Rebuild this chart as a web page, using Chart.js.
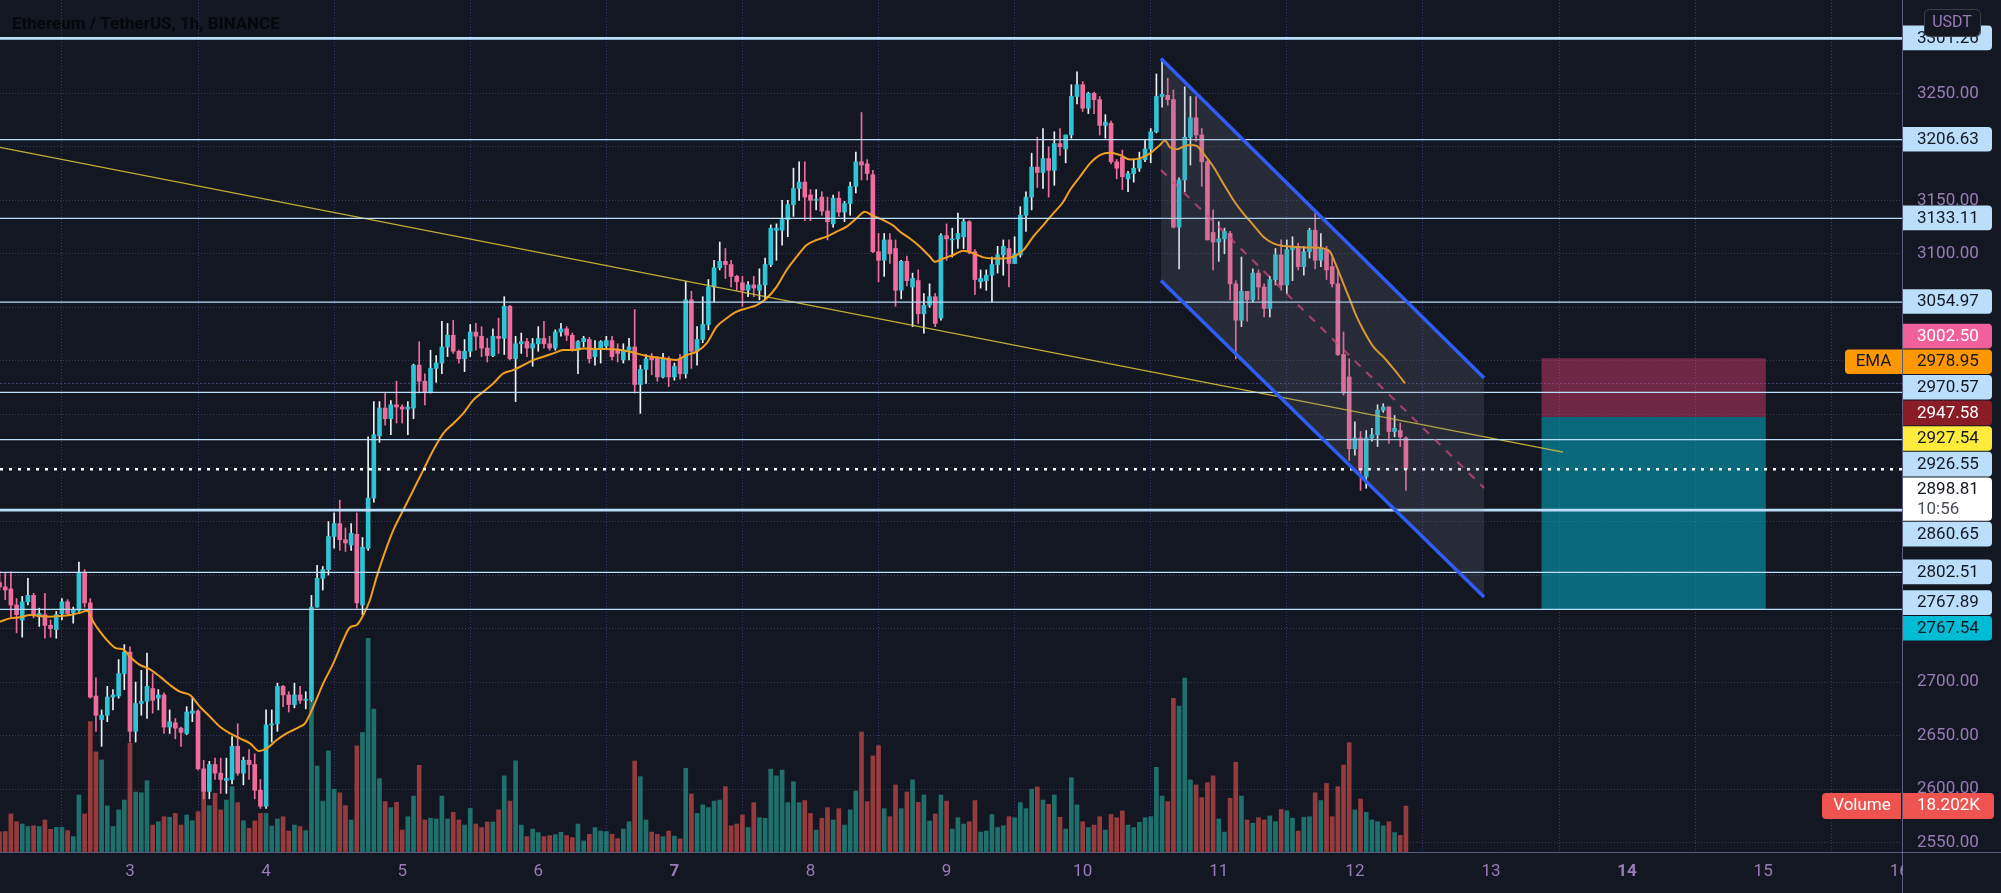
<!DOCTYPE html>
<html>
<head>
<meta charset="utf-8">
<script src="https://cdn.jsdelivr.net/npm/chart.js@4.4.1/dist/chart.umd.min.js"></script>
<style>
html,body{margin:0;padding:0;background:#131722;}
#wrap{width:2001px;height:893px;position:relative;overflow:hidden;}
canvas{display:block;}
</style>
</head>
<body>
<div id="wrap"><canvas id="c" width="2001" height="893"></canvas></div>
<script>
// ---------------- DATA ----------------
const title = 'Ethereum / TetherUS, 1h, BINANCE';
const startDay = 2, startHour = 1;           // first hourly candle: day 2, 01:00
const opens = [
2793,2789,2787,2772,2758,2775,2781,2761,2763,2753,2749,2764,2775,2765,2767,2802,2774,2687,2665,2669,2686,2687,2708,
2728,2654,2680,2682,2694,2685,2688,2658,2662,2657,2652,2671,2673,2619,2598,2623,2615,2608,2609,2640,2615,2627,2623,2599,
2584,2660,2661,2696,2688,2679,2688,2683,2683,2770,2797,2805,2836,2848,2833,2828,2838,2772,2825,2872,2930,2956,2946,2959,
2957,2955,2956,2996,2981,2971,2993,2998,3013,3024,3009,3002,3009,3027,3023,3012,3005,3023,3021,3051,3002,3016,3018,3012,
3016,3021,3016,3012,3027,3030,3024,3010,3018,3020,3004,3011,3014,3019,3011,3001,3010,3013,2978,2992,3003,3003,2985,3002,
2985,3002,2988,3057,3009,3020,3034,3069,3087,3093,3090,3079,3073,3066,3071,3066,3071,3090,3122,3122,3132,3146,3161,3167,
3155,3150,3153,3140,3128,3152,3139,3147,3163,3186,3184,3174,3102,3094,3113,3105,3066,3093,3069,3075,3044,3052,3060,3040,
3117,3113,3114,3116,3130,3102,3074,3075,3080,3090,3099,3105,3091,3099,3136,3153,3181,3176,3189,3178,3203,3198,3211,3247,
3258,3236,3250,3244,3220,3222,3186,3190,3170,3175,3180,3188,3198,3214,3247,3248,3244,3125,3169,3209,3227,3211,3186,3120,
3111,3114,3119,3072,3038,3065,3057,3082,3069,3049,3076,3099,3071,3104,3107,3088,3102,3122,3094,3104,3088,3072,3006,2985,
2918,2928,2892,2928,2931,2954,2957,2934,2935,2928];
const highs = [
2804,2802,2803,2778,2780,2797,2783,2769,2783,2758,2766,2778,2777,2770,2812,2805,2778,2704,2674,2696,2693,2721,2735,
2733,2700,2711,2727,2708,2693,2690,2674,2666,2658,2677,2685,2674,2627,2626,2629,2629,2629,2649,2661,2630,2637,2633,2609,
2674,2674,2699,2697,2691,2699,2696,2691,2781,2809,2808,2850,2858,2870,2844,2848,2858,2835,2929,2962,2962,2970,2963,2981,
2959,2962,2997,3018,2988,3010,3005,3037,3035,3038,3010,3020,3034,3035,3032,3021,3030,3040,3060,3052,3023,3026,3021,3021,
3032,3037,3023,3029,3035,3032,3026,3019,3023,3022,3019,3019,3023,3023,3016,3016,3021,3048,2996,3006,3007,3004,3007,3004,
2998,3006,3074,3065,3032,3060,3076,3094,3111,3105,3094,3080,3079,3074,3079,3086,3096,3127,3128,3150,3150,3180,3186,3186,
3160,3160,3158,3153,3155,3158,3149,3167,3195,3232,3188,3178,3119,3119,3119,3113,3094,3098,3082,3085,3063,3072,3063,3119,
3128,3124,3138,3133,3131,3104,3085,3085,3097,3107,3113,3113,3116,3144,3158,3194,3209,3217,3200,3214,3217,3211,3258,3270,
3261,3251,3251,3247,3230,3224,3188,3197,3177,3188,3195,3206,3217,3268,3282,3264,3253,3171,3256,3247,3247,3217,3188,3141,
3130,3124,3121,3075,3097,3065,3086,3085,3072,3079,3105,3113,3113,3116,3110,3107,3124,3138,3119,3107,3097,3085,3027,3002,
2943,2934,2935,2937,2959,2960,2957,2949,2942,2929];
const lows = [
2786,2777,2761,2746,2742,2772,2760,2752,2741,2742,2741,2758,2762,2755,2766,2770,2685,2654,2640,2663,2674,2685,2693,
2644,2644,2669,2666,2671,2674,2652,2652,2647,2640,2651,2663,2618,2591,2591,2609,2596,2596,2605,2613,2604,2609,2591,2582,
2582,2644,2654,2677,2672,2676,2680,2675,2682,2770,2786,2800,2825,2823,2822,2823,2769,2763,2823,2868,2924,2940,2931,2942,
2942,2931,2946,2970,2959,2970,2980,2988,3004,3007,2998,2990,3004,3010,3004,2999,3004,3007,3006,3001,2962,3007,3004,2995,
3009,3012,3010,3010,3023,3019,3009,2988,3013,2998,2996,2998,3011,3001,2999,2998,3001,2970,2951,2979,2987,2981,2984,2976,
2982,2983,2984,2993,2996,3017,3029,3055,3085,3077,3069,3066,3051,3060,3060,3057,3057,3088,3094,3108,3116,3135,3150,3131,
3131,3141,3136,3113,3125,3135,3130,3136,3157,3169,3169,3101,3074,3079,3091,3051,3058,3070,3032,3035,3026,3050,3032,3038,
3094,3097,3105,3105,3100,3062,3068,3066,3055,3082,3080,3069,3091,3097,3121,3141,3162,3161,3153,3164,3192,3185,3208,3240,
3233,3231,3231,3211,3208,3184,3170,3160,3158,3167,3177,3186,3185,3213,3237,3239,3124,3086,3158,3183,3205,3163,3113,3085,
3093,3100,3057,3002,3032,3037,3055,3057,3041,3041,3071,3066,3063,3075,3085,3080,3096,3086,3088,3076,3069,3005,2968,2907,
2912,2879,2881,2925,2920,2952,2923,2929,2920,2879];
const closes = [
2789,2786,2772,2763,2775,2781,2763,2764,2753,2750,2763,2775,2764,2767,2802,2774,2686,2669,2669,2686,2688,2708,2728,
2654,2680,2682,2696,2683,2688,2658,2663,2657,2653,2672,2673,2619,2598,2623,2615,2609,2610,2640,2615,2627,2623,2599,2584,
2660,2661,2696,2688,2679,2688,2683,2684,2770,2797,2805,2836,2848,2833,2830,2839,2774,2826,2872,2931,2956,2946,2959,2957,
2955,2957,2996,2981,2971,2993,2998,3013,3024,3009,3002,3009,3027,3023,3012,3005,3023,3021,3051,3002,3016,3018,3012,3016,
3021,3016,3012,3027,3030,3024,3010,3018,3021,3002,3011,3018,3019,3004,3007,3010,3013,2978,2992,3002,3001,2985,3002,2985,
2995,2988,3057,3009,3020,3034,3069,3087,3093,3090,3079,3074,3066,3071,3068,3071,3090,3124,3124,3132,3146,3161,3167,3153,
3150,3151,3140,3130,3152,3139,3147,3163,3186,3183,3175,3102,3094,3113,3100,3066,3093,3075,3077,3044,3052,3060,3035,3117,
3114,3114,3119,3130,3102,3076,3077,3080,3090,3099,3107,3091,3100,3136,3153,3181,3176,3189,3178,3203,3200,3211,3247,3258,
3236,3250,3244,3220,3223,3186,3180,3172,3175,3180,3188,3198,3214,3247,3249,3244,3125,3169,3209,3227,3211,3186,3113,3111,
3114,3121,3072,3038,3065,3057,3082,3069,3049,3076,3099,3071,3104,3107,3088,3102,3122,3094,3105,3085,3072,3006,2970,2918,
2928,2898,2928,2931,2954,2957,2934,2937,2929,2898.81];
const volumes = [ // thousands
8.0,8.1,15.1,12.0,11.1,10.1,10.4,10.1,12.7,9.0,9.8,9.8,8.5,6.1,22.6,15.1,51.7,39.7,36.5,18.3,10.1,16.7,20.6,
43.1,23.8,23.5,28.3,10.7,12.0,14.0,13.8,15.3,10.7,14.7,12.4,16.0,32.5,18.4,23.3,16.7,20.6,25.9,19.6,12.4,9.4,12.3,15.3,
15.3,10.3,13.1,14.0,8.3,10.7,10.1,8.5,59.7,34.1,20.2,40.1,24.9,23.5,18.4,12.7,42.1,47.4,84.8,56.7,29.1,20.0,17.6,19.7,
8.7,14.0,22.2,34.4,12.7,13.4,13.1,22.2,13.1,15.7,12.7,10.7,17.3,11.1,9.7,11.9,11.9,16.7,30.2,20.2,36.2,10.7,6.1,9.1,
7.7,6.1,6.5,6.9,7.8,6.5,5.7,11.1,4.4,7.0,9.7,8.3,8.1,7.0,5.3,9.1,12.0,36.1,29.9,12.7,7.9,7.0,6.1,8.3,
6.3,5.2,33.2,23.0,15.3,18.7,17.6,20.2,20.6,25.9,10.4,11.1,14.7,9.7,19.6,13.6,13.4,32.9,30.2,32.5,19.6,27.9,19.6,20.4,
15.3,8.7,13.4,17.6,12.7,17.2,10.7,16.7,24.2,47.6,20.0,38.1,42.2,17.2,14.0,26.6,17.2,23.8,28.6,19.7,22.6,12.3,15.1,22.6,
20.2,9.1,13.6,11.1,12.0,20.4,7.9,8.3,14.9,9.7,10.4,14.0,13.6,19.6,17.2,24.9,25.8,20.6,18.9,22.6,13.8,9.1,29.5,18.7,
12.0,9.7,10.7,14.0,8.7,14.9,13.6,16.3,10.7,9.7,11.8,13.6,14.0,33.6,22.2,20.0,61.0,57.9,69.0,28.6,26.6,21.6,27.5,30.2,
13.1,7.9,21.3,35.6,22.2,12.7,11.4,13.6,12.7,14.3,12.0,16.9,16.3,13.4,8.3,13.8,14.0,23.5,20.4,27.2,14.0,25.9,34.5,43.4,
16.7,21.0,15.7,12.7,12.0,10.4,12.0,7.7,6.6,18.202];
const times = opens.map((_, i) => startDay + (startHour + i) / 24);   // days

// EMA
const emaTimes = [2.045,2.117,2.192,2.266,2.339,2.412,2.486,2.559,2.633,2.686,2.730,2.780,2.853,2.902,2.951,3.000,3.073,3.147,3.220,3.294,3.367,3.441,3.514,3.588,3.661,3.735,3.808,3.882,3.950,4.004,4.078,4.151,4.249,4.286,4.347,4.420,4.494,4.567,4.616,4.666,4.714,4.763,4.813,4.861,4.935,5.008,5.082,5.155,5.229,5.302,5.376,5.449,5.522,5.596,5.669,5.743,5.816,5.890,5.963,6.037,6.110,6.184,6.257,6.331,6.429,6.551,6.674,6.796,6.919,7.017,7.090,7.164,7.237,7.311,7.384,7.458,7.531,7.605,7.678,7.752,7.825,7.899,7.972,8.046,8.119,8.192,8.266,8.339,8.400,8.461,8.535,8.608,8.658,8.731,8.805,8.878,8.915,8.976,9.049,9.123,9.196,9.270,9.343,9.417,9.490,9.564,9.637,9.711,9.784,9.858,9.907,9.980,10.054,10.127,10.201,10.274,10.348,10.421,10.494,10.568,10.605,10.641,10.690,10.739,10.788,10.838,10.886,10.960,11.033,11.107,11.180,11.254,11.327,11.401,11.474,11.548,11.621,11.695,11.768,11.817,11.866,11.915,11.964,12.013,12.062,12.135,12.209,12.282,12.331,12.368];
const emaValues = [2756.4,2759.5,2760.5,2762.6,2761.7,2761.1,2761.7,2762.6,2764.8,2766.7,2756.4,2747.1,2736.2,2731.5,2730.6,2723.7,2716.0,2711.9,2705.1,2697.3,2691.0,2687.9,2677.0,2667.7,2658.3,2652.1,2647.4,2642.8,2635.6,2638.1,2645.9,2652.1,2658.3,2661.4,2677.0,2698.8,2717.5,2739.3,2751.1,2753.3,2762.6,2776.7,2798.5,2817.0,2842.0,2860.7,2879.4,2898.0,2916.7,2932.3,2941.6,2951.0,2963.4,2971.2,2979.0,2988.3,2991.4,2996.1,3000.8,3003.9,3007.0,3010.1,3010.1,3011.7,3011.1,3010.8,3008.6,3004.6,3002.4,3000.9,3005.5,3008.7,3016.4,3032.0,3039.8,3046.0,3049.1,3052.2,3058.5,3069.4,3084.9,3097.4,3108.3,3113.0,3116.1,3120.7,3125.4,3133.2,3139.4,3135.4,3131.6,3126.5,3120.7,3114.4,3106.6,3097.3,3092.6,3095.7,3098.9,3102.9,3100.4,3096.7,3095.7,3095.7,3097.3,3103.5,3116.0,3126.9,3137.8,3148.7,3159.6,3172.0,3184.5,3192.3,3194.4,3192.3,3188.2,3189.2,3193.8,3201.6,3205.8,3199.6,3197.6,3200.1,3201.6,3200.7,3193.8,3181.4,3165.8,3150.3,3137.8,3126.9,3116.0,3109.8,3107.3,3106.7,3106.0,3106.0,3105.1,3102.0,3088.0,3072.4,3056.9,3041.3,3028.8,3013.3,3003.9,2993.0,2985.2,2978.95];

// horizontal levels
const levels = [3301.26, 3206.63, 3133.11, 3054.97, 2970.57, 2926.55, 2860.65, 2802.51, 2767.89];
const thickLevels = [3301.26, 2860.65];
const lastPrice = 2898.81, countdown = '10:56';
const emaLast = 2978.95;
// drawings
const trendTimes = [2.045, 13.529], trendValues = [3199.5, 2914.9], trendLabel = 2927.54;
const chanTimes = [10.575, 12.949];
const chanUpper = [3282.5, 2984.0];
const chanLower = [3075.1, 2779.5];
const chanMid = [3178.3, 2881.3];
const posTimes = [13.37, 15.02];
const posStop = 3002.50, posEntry = 2947.58, posTarget = 2767.54;
const lastVolumeLabel = '18.202K';
// axes
const dayTicks = [3,4,5,6,7,8,9,10,11,12,13,14,15,16];
const boldDays = [7,14];
const priceTicks = [2550,2600,2650,2700,2750,2800,2850,2900,2950,3000,3050,3100,3150,3200,3250,3300];
const shownPriceTicks = [3250,3150,3100,2700,2650,2600,2550];

// ---------------- STYLE ----------------
const BG = '#131722';
const FONT = 'Roboto, "Liberation Sans", sans-serif';
const TICK = '#9a7bb8';
const UP = '#2ec4d6', DOWN = '#ef6c9c';
const VUP = 'rgba(38,166,154,0.62)', VDOWN = 'rgba(239,83,80,0.6)';
const LEVEL = '#bbdefb';
const X0 = 2.045, X1 = 16.02;

const up = closes.map((c, i) => c >= opens[i]);
const seg = (xs, ys) => xs.map((x, i) => ({x, y: ys[i]}));
const hline = v => [{x: X0, y: v}, {x: X1, y: v}];

const datasets = [];
function add(ds){ datasets.push(ds); return datasets.length - 1; }

add({type:'bar', label:'vol', yAxisID:'yVol', order:10, barThickness:4,
  data: times.map((t,i)=>({x:t, y:volumes[i]})),
  backgroundColor: up.map(u => u ? VUP : VDOWN)});
add({type:'bar', label:'wick', yAxisID:'y', order:6, barThickness:1, minBarLength:1,
  data: times.map((t,i)=>({x:t, y:[lows[i], highs[i]]})),
  backgroundColor: up.map(u => u ? '#e8f4f8' : DOWN)});
add({type:'bar', label:'body', yAxisID:'y', order:5, barThickness:4, minBarLength:1,
  data: times.map((t,i)=>({x:t, y:[Math.min(opens[i],closes[i]), Math.max(opens[i],closes[i])]})),
  backgroundColor: up.map(u => u ? UP : DOWN)});
add({type:'line', label:'ema', order:4, data: seg(emaTimes, emaValues),
  borderColor:'#f0a020', borderWidth:2, pointRadius:0, cubicInterpolationMode:'monotone', fill:false});
// EMA price line (dotted) and current price line
add({type:'line', order:7, data:hline(emaLast), borderColor:'rgba(95,95,170,0.6)', borderWidth:1, borderDash:[2,2], pointRadius:0, fill:false});
levels.forEach(v => add({type:'line', order:2, data:hline(v), borderColor:LEVEL,
  borderWidth: thickLevels.includes(v) ? 2.6 : 1.2, pointRadius:0, fill:false}));
add({type:'line', order:2, data:hline(lastPrice), borderColor:'#ffffff', borderWidth:2.6, borderDash:[3,6], pointRadius:0, fill:false});
// trendline
add({type:'line', order:2, data:seg(trendTimes, trendValues), borderColor:'rgba(214,190,60,0.9)', borderWidth:1.3, pointRadius:0, fill:false});
// position boxes
add({type:'line', order:3, data:seg(posTimes, [posStop,posStop]), borderWidth:0, pointRadius:0,
  fill:{value:posEntry}, backgroundColor:'rgba(236,64,122,0.42)'});
add({type:'line', order:3, data:seg(posTimes, [posTarget,posTarget]), borderWidth:0, pointRadius:0,
  fill:{value:posEntry}, backgroundColor:'rgba(0,188,212,0.5)'});
// channel
const iLow = add({type:'line', order:1, data:seg(chanTimes, chanLower), borderColor:'#2f5cf5', borderWidth:3.5, pointRadius:0, fill:false});
add({type:'line', order:1, data:seg(chanTimes, chanUpper), borderColor:'#2f5cf5', borderWidth:3.5, pointRadius:0,
  fill:{target:iLow}, backgroundColor:'rgba(120,123,140,0.2)'});
add({type:'line', order:1, data:seg(chanTimes, chanMid), borderColor:'rgba(236,64,122,0.7)', borderWidth:2.2, borderDash:[8,8], pointRadius:0, fill:false});

// ---------------- LABEL BOXES ----------------
const LB = '#bbdefb', DK = '#131722';
const priceLabels = [
  {v:levels[0], bg:LB, fg:DK},
  {v:levels[1], bg:LB, fg:DK},
  {v:levels[2], bg:LB, fg:DK},
  {v:levels[3], bg:LB, fg:DK},
  {v:posStop, bg:'#f0609a', fg:'#ffffff'},
  {v:emaLast, bg:'#ff9800', fg:DK, tag:'EMA'},
  {v:levels[4], bg:LB, fg:DK},
  {v:posEntry, bg:'#8a1c26', fg:'#ffffff'},
  {v:trendLabel, bg:'#ffeb3b', fg:DK},
  {v:levels[5], bg:LB, fg:DK},
  {v:lastPrice, bg:'#ffffff', fg:DK, sub:countdown},
  {v:levels[6], bg:LB, fg:DK},
  {v:levels[7], bg:LB, fg:DK},
  {v:levels[8], bg:LB, fg:DK},
  {v:posTarget, bg:'#00bcd4', fg:DK}
];

function layoutLabels(items){
  items.sort((a,b)=>a.y-b.y);
  let clusters = items.map(it=>({items:[it]}));
  const place = c => {
    let off = 0; const d = [];
    c.items.forEach(it=>{ d.push(it.y - (off + it.h/2)); off += it.h; });
    const mean = d.reduce((a,b)=>a+b,0)/d.length;
    const s = [...d].sort((a,b)=>a-b);
    const upperMed = s[Math.floor(s.length/2)];
    c.top = (mean + upperMed) / 2; c.h = off;
  };
  clusters.forEach(place);
  let merged = true;
  while (merged){
    merged = false;
    for (let i=0;i<clusters.length-1;i++){
      const a = clusters[i], b = clusters[i+1];
      if (a.top + a.h > b.top + 0.01){
        const c = {items:[...a.items, ...b.items]}; place(c);
        clusters.splice(i,2,c); merged = true; break;
      }
    }
  }
  clusters.forEach(c=>{ let off=c.top; c.items.forEach(it=>{ it.top = off; off += it.h; }); });
}

function rrect(ctx, x, y, w, h, rl, rr){
  ctx.beginPath();
  ctx.moveTo(x+rl, y); ctx.lineTo(x+w-rr, y); ctx.quadraticCurveTo(x+w, y, x+w, y+rr);
  ctx.lineTo(x+w, y+h-rr); ctx.quadraticCurveTo(x+w, y+h, x+w-rr, y+h);
  ctx.lineTo(x+rl, y+h); ctx.quadraticCurveTo(x, y+h, x, y+h-rl);
  ctx.lineTo(x, y+rl); ctx.quadraticCurveTo(x, y, x+rl, y); ctx.closePath();
}

const overlay = {
  id:'overlay',
  beforeDraw(chart){
    const c = chart.ctx; c.save(); c.fillStyle = BG; c.fillRect(0,0,chart.width,chart.height); c.restore();
  },
  afterDraw(chart){
    const ctx = chart.ctx, a = chart.chartArea, ys = chart.scales.y, yv = chart.scales.yVol;
    ctx.save();
    // hide time label overflow under price scale
    ctx.fillStyle = BG; ctx.fillRect(a.right+1, a.bottom+1, chart.width-a.right, chart.height-a.bottom);
    // axis borders
    ctx.strokeStyle = 'rgba(150,150,200,0.55)'; ctx.lineWidth = 1;
    ctx.beginPath(); ctx.moveTo(a.right+0.5, 0); ctx.lineTo(a.right+0.5, chart.height); ctx.stroke();
    ctx.beginPath(); ctx.moveTo(0, a.bottom+0.5); ctx.lineTo(chart.width, a.bottom+0.5); ctx.stroke();
    // title
    ctx.font = 'bold 17px ' + FONT; ctx.fillStyle = '#06070b'; ctx.textBaseline = 'middle'; ctx.textAlign='left';
    ctx.fillText(title, 12, 25);
    // price labels
    const items = priceLabels.map(p=>({...p, y: ys.getPixelForValue(p.v), h: p.sub ? 44.4 : 25.6}));
    layoutLabels(items);
    const bx = a.right + 1, bw = 89;
    ctx.font = '17px ' + FONT; ctx.textBaseline = 'middle';
    items.forEach(it=>{
      ctx.fillStyle = it.bg; rrect(ctx, bx, it.top, bw, it.h - 1, 0, 4); ctx.fill();
      ctx.fillStyle = it.fg; ctx.textAlign = 'left';
      if (it.sub){
        ctx.fillText(it.v.toFixed(2), bx + 14, it.top + 12);
        ctx.fillStyle = '#4b4e57'; ctx.fillText(it.sub, bx + 14, it.top + 32.5);
      } else {
        ctx.fillText(it.v.toFixed(2), bx + 14, it.top + it.h/2);
      }
      if (it.tag){
        ctx.fillStyle = it.bg; rrect(ctx, a.right - 57, it.top, 57, it.h - 1, 4, 0); ctx.fill();
        ctx.fillStyle = it.fg; ctx.textAlign = 'center'; ctx.fillText(it.tag, a.right - 28.5, it.top + it.h/2);
      }
    });
    // volume labels
    const vy = yv.getPixelForValue(volumes[volumes.length-1]);
    ctx.fillStyle = '#ef5350';
    rrect(ctx, bx, vy - 13, bw + 2, 26, 0, 4); ctx.fill();
    rrect(ctx, a.right - 80, vy - 13, 79, 26, 4, 0); ctx.fill();
    ctx.fillStyle = '#ffffff'; ctx.textAlign = 'left';
    ctx.fillText(lastVolumeLabel, bx + 14, vy);
    ctx.textAlign = 'center'; ctx.fillText('Volume', a.right - 40, vy);
    // currency box
    ctx.fillStyle = BG; rrect(ctx, 1924, 9, 56, 27, 5, 5); ctx.fill();
    ctx.strokeStyle = '#3a3e4a'; ctx.lineWidth = 1; rrect(ctx, 1924.5, 9.5, 56, 27, 5, 5); ctx.stroke();
    ctx.fillStyle = TICK; ctx.font = '16px ' + FONT; ctx.textAlign = 'center';
    ctx.fillText('USDT', 1952, 23);
    ctx.restore();
  }
};

new Chart(document.getElementById('c'), {
  type:'bar',
  data:{datasets},
  options:{
    responsive:false, animation:false, devicePixelRatio:1,
    layout:{padding:0},
    datasets:{bar:{grouped:false, borderWidth:0}},
    plugins:{legend:{display:false}, tooltip:{enabled:false}},
    scales:{
      x:{type:'linear', min:X0, max:X1, offset:false,
        afterBuildTicks: s => { s.ticks = dayTicks.map(v=>({value:v})); },
        afterFit: s => { s.height = 41; s.paddingLeft = 0; s.paddingRight = 0; },
        grid:{color:'rgba(78,80,170,0.6)', drawTicks:false, lineWidth:1},
        border:{display:false, dash:[1,2]},
        ticks:{color:TICK, padding:10, maxRotation:0, autoSkip:false,
          font: ctx => ({family:FONT, size:17, weight: (ctx.tick && boldDays.includes(ctx.tick.value)) ? 'bold' : 'normal'}),
          callback: v => String(v)}
      },
      y:{type:'linear', position:'right', min:2541.3, max:3337.1,
        afterBuildTicks: s => { s.ticks = priceTicks.map(v=>({value:v})); },
        afterFit: s => { s.width = 99; s.paddingTop = 0; s.paddingBottom = 0; },
        grid:{color:'rgba(90,90,150,0.5)', drawTicks:false, lineWidth:1},
        border:{display:false, dash:[1,2]},
        ticks:{color:TICK, padding:15, autoSkip:false, font:{family:FONT, size:17},
          callback: v => shownPriceTicks.includes(v) ? v.toFixed(2) : ''}
      },
      yVol:{type:'linear', display:false, min:0, max:338}
    }
  },
  plugins:[overlay]
});
</script>
</body>
</html>
